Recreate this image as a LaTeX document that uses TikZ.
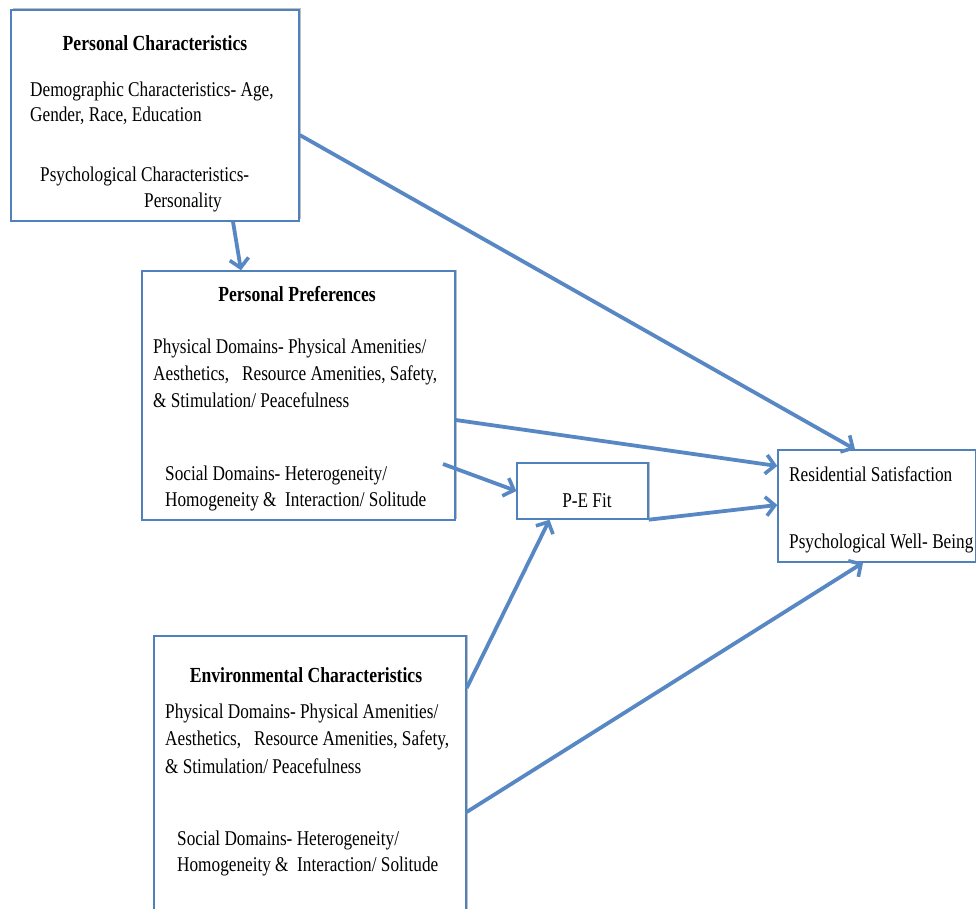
\documentclass[tikz,border=0pt]{standalone}
\usepackage{fontspec}
\setmainfont{Liberation Serif}[FakeStretch=0.82]
\usetikzlibrary{arrows.meta,shadows}
\definecolor{boxblue}{RGB}{79,129,189}
\definecolor{arrowblue}{RGB}{88,136,196}

\begin{document}
\begin{tikzpicture}[x=1pt,y=1pt,yscale=-1,xscale=1,
  box/.style={draw=boxblue,line width=1.4pt,fill=white,inner sep=0pt,
    drop shadow={shadow xshift=1.5pt,shadow yshift=1.5pt,opacity=0.25,fill=black}},
  txt/.style={anchor=base west,inner sep=0pt,font=\fontsize{21}{26}\selectfont},
  ttl/.style={anchor=base,inner sep=0pt,font=\fontsize{21.5}{26}\selectfont\bfseries},
  link/.style={draw=arrowblue,line width=3.8pt,-{Straight Barb[length=9pt,width=19pt,line width=3.6pt]}}]
\useasboundingbox (0,0) rectangle (976,909);

% Boxes
\node (pc) [box,minimum width=288pt,minimum height=211pt] at (155,115.5) {};
\node (pp) [box,minimum width=313pt,minimum height=249pt] at (298.5,395.5) {};
\node (pef) [box,minimum width=131pt,minimum height=56pt] at (582.5,491) {};
\node (rs) [box,minimum width=198pt,minimum height=112pt] at (877,506) {};
\node (env) [box,minimum width=312pt,minimum height=290pt] at (310,781) {};

% Text Node
\node (pctitle) [ttl] at (155,51) {Personal Characteristics};
\node (pcdemo) [txt] at (30,97) {Demographic Characteristics- Age,};
\node (pcgen) [txt] at (30,122) {Gender, Race, Education};
\node (pcpsy) [txt] at (40,182) {Psychological Characteristics-};
\node (pcpers) [txt] at (144,208) {Personality};

% Text Node
\node (pptitle) [ttl] at (297,301) {Personal Preferences};
\node (ppphy1) [txt] at (153,353) {Physical Domains- Physical Amenities/};
\node (ppphy2) [txt] at (153,380) {Aesthetics,~~~Resource Amenities, Safety,};
\node (ppphy3) [txt] at (153,407) {\& Stimulation/ Peacefulness};
\node (ppsoc1) [txt] at (165,480) {Social Domains- Heterogeneity/};
\node (ppsoc2) [txt] at (165,506) {Homogeneity \&~~Interaction/ Solitude};

% Text Node
\node (pefit) [txt,anchor=base] at (587,507) {P-E Fit};

% Text Node
\node (rssat) [txt] at (789,481) {Residential Satisfaction};
\node (rspwb) [txt] at (789,548) {Psychological Well- Being};

% Text Node
\node (envtitle) [ttl] at (306,682) {Environmental Characteristics};
\node (envphy1) [txt] at (165,718) {Physical Domains- Physical Amenities/};
\node (envphy2) [txt] at (165,745) {Aesthetics,~~~Resource Amenities, Safety,};
\node (envphy3) [txt] at (165,773) {\& Stimulation/ Peacefulness};
\node (envsoc1) [txt] at (177,845) {Social Domains- Heterogeneity/};
\node (envsoc2) [txt] at (177,871) {Homogeneity \&~~Interaction/ Solitude};

% Arrows
\coordinate (ppsoc) at (443,464);
\draw [link] ([yshift=19.5pt]pc.east) -- ([xshift=-22pt]rs.north);
\draw [link] ([xshift=78pt]pc.south) -- ([xshift=-57.5pt]pp.north);
\draw [link] ([yshift=24.5pt]pp.east) -- ([yshift=-40pt]rs.west);
\draw [link] (ppsoc) -- (pef.west);
\draw [link] (pef.south east) -- ([yshift=-1pt]rs.west);
\draw [link] ([yshift=-93pt]env.east) -- ([xshift=-33pt]pef.south);
\draw [link] ([yshift=31pt]env.east) -- ([xshift=-14pt]rs.south);

\end{tikzpicture}
\end{document}
